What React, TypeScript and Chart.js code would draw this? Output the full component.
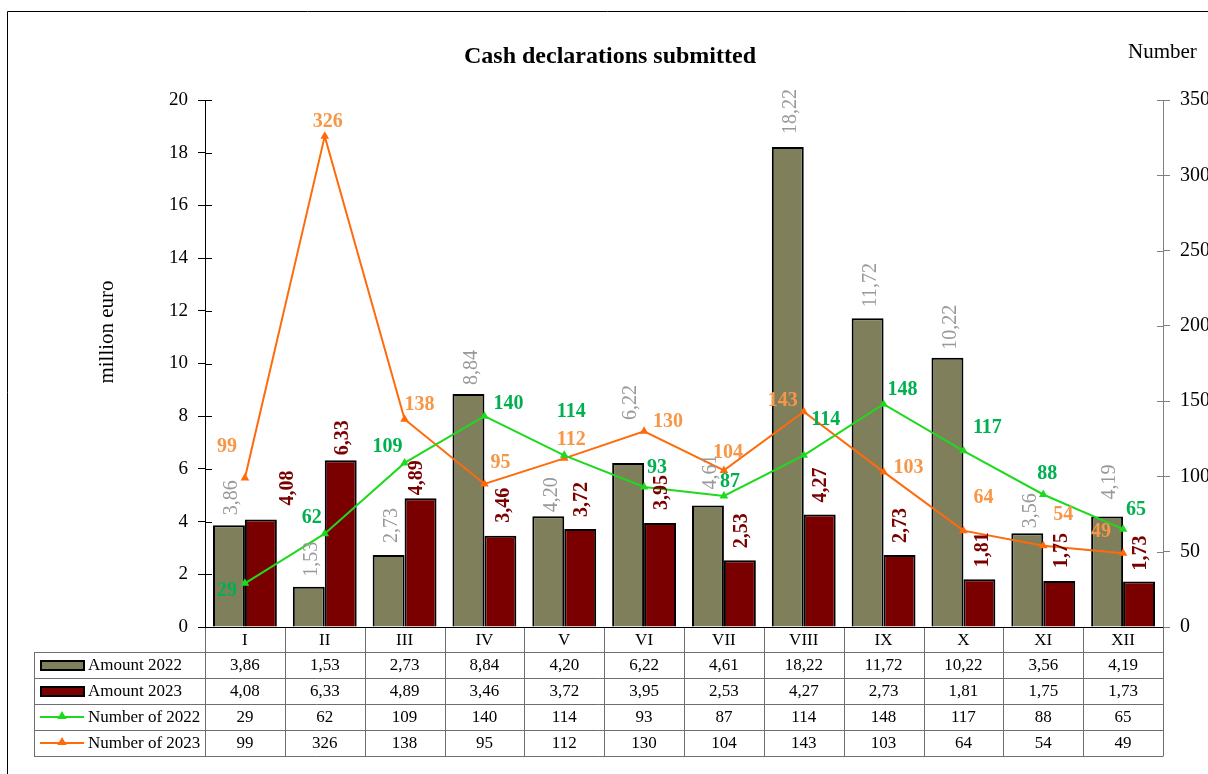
import React, { useEffect, useRef } from "react";
import { Chart, registerables } from "chart.js";

Chart.register(...registerables);

const months = ["I", "II", "III", "IV", "V", "VI", "VII", "VIII", "IX", "X", "XI", "XII"];
const amount2022 = [3.86, 1.53, 2.73, 8.84, 4.2, 6.22, 4.61, 18.22, 11.72, 10.22, 3.56, 4.19];
const amount2023 = [4.08, 6.33, 4.89, 3.46, 3.72, 3.95, 2.53, 4.27, 2.73, 1.81, 1.75, 1.73];
const number2022 = [29, 62, 109, 140, 114, 93, 87, 114, 148, 117, 88, 65];
const number2023 = [99, 326, 138, 95, 112, 130, 104, 143, 103, 64, 54, 49];

const seriesNames = ["Amount 2022", "Amount 2023", "Number of 2022", "Number of 2023"];
const titleText = "Cash declarations submitted";
const leftAxisTitle = "million euro";
const rightAxisTitle = "Number";

// label placement tweaks (manual placements in the original)
const gapA22 = [10, 10, 12, 9, 4, 43, 16, 13, 11, 8, 5, 17];
const gapA23 = [14, 5, 3, 13, 12, 13, 12, 12, 12, 12, 13, 11];
const dxA23 = [27, 2, -4, 3, 2, 2, 2, 1, 1, 3, 3, 2];
const offN22 = [[-18, 7], [-13, -16], [-17, -16], [24, -12], [7, -44], [13, -19], [6, -14], [22, -36], [19, -14], [24, -23], [4, -21], [13, -19]];
const offN23 = [[-18, -31], [3, -14], [15, -14], [16, -21], [7, -19], [24, -9], [4, -18], [-21, -11], [25, -4], [20, -33], [20, -31], [-22, -21]];

const FONT = "'Liberation Serif', 'Times New Roman', serif";
const C_A22 = "#7f7f5c";
const C_A23 = "#7a0000";
const C_N22 = "#1fd91f";
const C_N23 = "#ff6a0a";
const C_L22 = "#999999";
const C_L23 = "#7a0000";
const C_LN22 = "#00b050";
const C_LN23 = "#f79646";

const fmt2 = (v: number) => v.toFixed(2).replace(".", ",");

function triangle(ctx: CanvasRenderingContext2D, x: number, y: number, r: number, color: string) {
  ctx.beginPath();
  ctx.moveTo(x, y - r);
  ctx.lineTo(x + r * 0.95, y + r * 0.6);
  ctx.lineTo(x - r * 0.95, y + r * 0.6);
  ctx.closePath();
  ctx.fillStyle = color;
  ctx.fill();
}

const overlay = {
  id: "overlay",
  afterDraw(chart: any) {
    const ctx: CanvasRenderingContext2D = chart.ctx;
    const { left, right, bottom } = chart.chartArea;
    const xs = chart.scales.x;
    const ys = chart.scales.y;
    const ys1 = chart.scales.y1;
    ctx.save();

    // frame
    ctx.strokeStyle = "#000";
    ctx.lineWidth = 1;
    ctx.beginPath();
    ctx.moveTo(7.5, 774);
    ctx.lineTo(7.5, 11.5);
    ctx.lineTo(1208, 11.5);
    ctx.stroke();

    // titles
    ctx.fillStyle = "#000";
    ctx.textAlign = "center";
    ctx.textBaseline = "middle";
    ctx.font = `bold 24px ${FONT}`;
    ctx.fillText(titleText, 610, 57);
    ctx.font = `21px ${FONT}`;
    ctx.textAlign = "left";
    ctx.fillText(rightAxisTitle, 1128, 52);
    ctx.save();
    ctx.translate(107, 332);
    ctx.rotate(-Math.PI / 2);
    ctx.textAlign = "center";
    ctx.fillText(leftAxisTitle, 0, 0);
    ctx.restore();

    // inner tick marks
    ctx.lineWidth = 1;
    ctx.strokeStyle = "#000";
    ys.ticks.forEach((t: any) => {
      const py = Math.round(ys.getPixelForValue(t.value)) + 0.5;
      ctx.beginPath();
      ctx.moveTo(left, py);
      ctx.lineTo(left + 7, py);
      ctx.stroke();
    });
    ctx.strokeStyle = "#808080";
    ys1.ticks.forEach((t: any) => {
      const py = Math.round(ys1.getPixelForValue(t.value)) + 0.5;
      ctx.beginPath();
      ctx.moveTo(right - 6, py);
      ctx.lineTo(right, py);
      ctx.stroke();
    });

    // data table
    const colW = (right - left) / months.length;
    const headH = 25;
    const rowH = 26;
    const tableLeft = 34;
    const rowsTop = bottom + headH;
    const tableBottom = rowsTop + rowH * 4;
    ctx.strokeStyle = "#6e6e6e";
    ctx.lineWidth = 1;
    for (let i = 0; i <= months.length; i++) {
      const px = Math.round(left + i * colW) + 0.5;
      ctx.beginPath();
      ctx.moveTo(px, bottom);
      ctx.lineTo(px, tableBottom);
      ctx.stroke();
    }
    ctx.beginPath();
    ctx.moveTo(tableLeft + 0.5, rowsTop);
    ctx.lineTo(tableLeft + 0.5, tableBottom);
    ctx.stroke();
    for (let r = 0; r <= 4; r++) {
      const py = Math.round(rowsTop + r * rowH) + 0.5;
      ctx.beginPath();
      ctx.moveTo(tableLeft, py);
      ctx.lineTo(right + 0.5, py);
      ctx.stroke();
    }
    // zero line
    ctx.strokeStyle = "#000";
    ctx.beginPath();
    ctx.moveTo(left, Math.round(bottom) + 0.5);
    ctx.lineTo(right, Math.round(bottom) + 0.5);
    ctx.stroke();

    ctx.font = `17px ${FONT}`;
    ctx.fillStyle = "#000";
    ctx.textAlign = "center";
    ctx.textBaseline = "middle";
    months.forEach((m, i) => {
      ctx.fillText(m, xs.getPixelForValue(i), bottom + headH / 2 + 1);
    });
    const rows = [
      amount2022.map(fmt2),
      amount2023.map(fmt2),
      number2022.map(String),
      number2023.map(String),
    ];
    rows.forEach((vals, r) => {
      const cy = rowsTop + r * rowH + rowH / 2 + 1;
      vals.forEach((v, i) => ctx.fillText(v, xs.getPixelForValue(i), cy));
    });
    // legend keys
    const keyColors = [C_A22, C_A23, C_N22, C_N23];
    seriesNames.forEach((name, r) => {
      const cy = rowsTop + r * rowH + rowH / 2;
      if (r < 2) {
        ctx.fillStyle = keyColors[r];
        ctx.fillRect(41, cy - 4, 43, 9);
        ctx.strokeStyle = "#000";
        ctx.lineWidth = 2;
        ctx.strokeRect(41, cy - 4, 43, 9);
      } else {
        ctx.strokeStyle = keyColors[r];
        ctx.lineWidth = 2;
        ctx.beginPath();
        ctx.moveTo(40, cy);
        ctx.lineTo(84, cy);
        ctx.stroke();
        triangle(ctx, 62, cy - 1, 5, keyColors[r]);
      }
      ctx.fillStyle = "#000";
      ctx.textAlign = "left";
      ctx.fillText(name, 88, cy + 1);
    });

    // data labels
    const mA22 = chart.getDatasetMeta(2);
    const mA23 = chart.getDatasetMeta(3);
    const mN22 = chart.getDatasetMeta(0);
    const mN23 = chart.getDatasetMeta(1);
    const rotLabel = (txt: string, x: number, y: number, color: string, bold: boolean) => {
      ctx.save();
      ctx.translate(x, y);
      ctx.rotate(-Math.PI / 2);
      ctx.font = `${bold ? "bold " : ""}20px ${FONT}`;
      ctx.fillStyle = color;
      ctx.textAlign = "left";
      ctx.textBaseline = "middle";
      ctx.fillText(txt, 0, 0);
      ctx.restore();
    };
    amount2022.forEach((v, i) => {
      const el = mA22.data[i];
      rotLabel(fmt2(v), el.x + 3, el.y - gapA22[i], C_L22, false);
    });
    amount2023.forEach((v, i) => {
      const el = mA23.data[i];
      rotLabel(fmt2(v), el.x + dxA23[i], el.y - gapA23[i], C_L23, true);
    });
    ctx.font = `bold 20px ${FONT}`;
    ctx.textAlign = "center";
    ctx.textBaseline = "middle";
    number2022.forEach((v, i) => {
      const el = mN22.data[i];
      ctx.fillStyle = C_LN22;
      ctx.fillText(String(v), el.x + offN22[i][0], el.y + offN22[i][1]);
    });
    number2023.forEach((v, i) => {
      const el = mN23.data[i];
      ctx.fillStyle = C_LN23;
      ctx.fillText(String(v), el.x + offN23[i][0], el.y + offN23[i][1]);
    });
    ctx.restore();
  },
};

export default function App() {
  const ref = useRef<HTMLCanvasElement | null>(null);
  useEffect(() => {
    document.body.style.margin = "0";
    document.body.style.overflow = "hidden";
    const canvas = ref.current;
    if (!canvas) return;
    const chart = new Chart(canvas, {
      type: "bar",
      data: {
        labels: months,
        datasets: [
          {
            type: "line",
            label: seriesNames[2],
            data: number2022,
            yAxisID: "y1",
            borderColor: C_N22,
            backgroundColor: C_N22,
            borderWidth: 2,
            pointStyle: "triangle",
            pointRadius: 5,
            pointBorderWidth: 0,
            tension: 0,
            order: 0,
          } as any,
          {
            type: "line",
            label: seriesNames[3],
            data: number2023,
            yAxisID: "y1",
            borderColor: C_N23,
            backgroundColor: C_N23,
            borderWidth: 2,
            pointStyle: "triangle",
            pointRadius: 5,
            pointBorderWidth: 0,
            tension: 0,
            order: 0,
          } as any,
          {
            type: "bar",
            label: seriesNames[0],
            data: amount2022,
            yAxisID: "y",
            backgroundColor: C_A22,
            borderColor: "#000",
            borderWidth: 2,
            categoryPercentage: 0.8,
            barPercentage: 1,
            order: 1,
          },
          {
            type: "bar",
            label: seriesNames[1],
            data: amount2023,
            yAxisID: "y",
            backgroundColor: C_A23,
            borderColor: "#000",
            borderWidth: 2,
            categoryPercentage: 0.8,
            barPercentage: 1,
            order: 1,
          },
        ],
      },
      options: {
        animation: false,
        responsive: false,
        events: [],
        layout: { padding: { left: 0, right: 0, top: 100, bottom: 147 } },
        plugins: { legend: { display: false }, tooltip: { enabled: false }, title: { display: false } },
        scales: {
          x: { display: false, offset: true },
          y: {
            position: "left",
            min: 0,
            max: 20,
            ticks: { stepSize: 2, color: "#000", font: { family: FONT, size: 19 }, padding: 10 },
            grid: { drawOnChartArea: false, drawTicks: true, tickLength: 7, color: "#000" },
            border: { display: true, color: "#000", width: 1 },
            afterFit: (s: any) => { s.width = 205; },
          },
          y1: {
            position: "right",
            min: 0,
            max: 350,
            ticks: { stepSize: 50, color: "#000", font: { family: FONT, size: 20 }, padding: 10 },
            grid: { drawOnChartArea: false, drawTicks: true, tickLength: 7, color: "#808080" },
            border: { display: true, color: "#808080", width: 1 },
            afterFit: (s: any) => { s.width = 45; },
          },
        },
      },
      plugins: [overlay],
    });
    return () => chart.destroy();
  }, []);
  return (
    <div style={{ width: 1208, height: 774, overflow: "hidden", background: "#fff" }}>
      <canvas ref={ref} width={1208} height={774} style={{ display: "block" }} />
    </div>
  );
}
